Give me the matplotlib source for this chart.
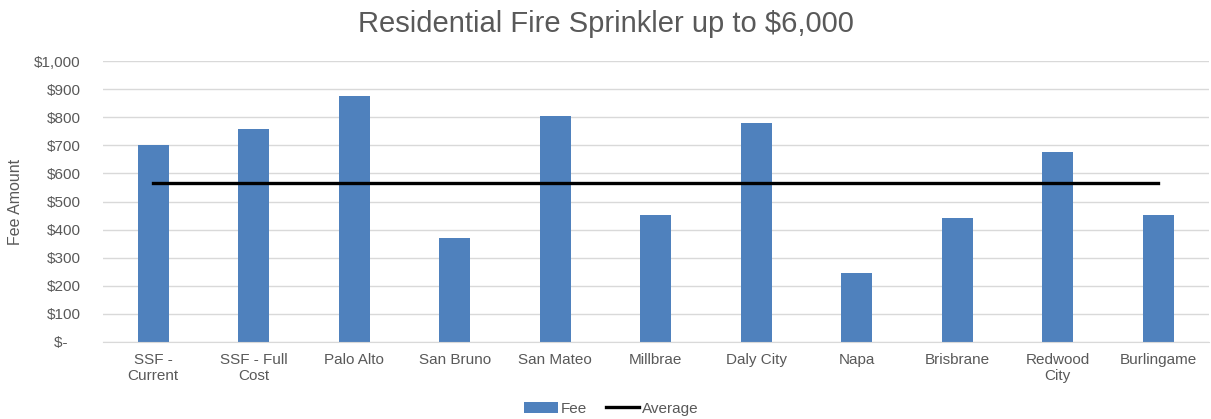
import numpy as np
import matplotlib.pyplot as plt
from matplotlib.ticker import FuncFormatter

plt.rcParams['font.family'] = ['Liberation Sans', 'DejaVu Sans']

# fee data
cities = ['SSF -\nCurrent', 'SSF - Full\nCost', 'Palo Alto', 'San Bruno', 'San Mateo',
          'Millbrae', 'Daly City', 'Napa', 'Brisbrane', 'Redwood\nCity', 'Burlingame']
fees = [700, 760, 875, 370, 805, 453, 778, 246, 440, 677, 453]

# average of the comparison cities (SSF rows left out)
avg_fee = np.mean(fees[2:])
average = [avg_fee] * len(cities)

grey = '#595959'
blue = '#4f81bd'

fig = plt.figure(figsize=(12.11, 4.19), dpi=100)
ax = fig.add_axes([0.085, 0.184, 0.913, 0.67])

x = np.arange(len(cities))
bars = ax.bar(x, fees, width=0.31, color=blue, label='Fee', zorder=2)
line, = ax.plot(x, average, color='black', lw=2.4, label='Average', zorder=3)

ax.set_xlim(-0.5, len(cities) - 0.5)
ax.set_ylim(0, 1000)
ax.set_yticks(np.arange(0, 1001, 100))


def money(v, pos):
    if v == 0:
        return '$-   '
    return '${:,.0f}'.format(v)


ax.yaxis.set_major_formatter(FuncFormatter(money))
ax.set_xticks(x)
ax.set_xticklabels(cities)
ax.tick_params(axis='both', length=0, labelsize=11, colors=grey, pad=8)
ax.tick_params(axis='y', pad=16)
ax.grid(axis='y', color='#d9d9d9', lw=1, zorder=0)
for s in ['top', 'right', 'left']:
    ax.spines[s].set_visible(False)
ax.spines['bottom'].set_color('#d9d9d9')

ax.set_ylabel('Fee Amount', fontsize=11.5, color=grey, labelpad=8)
fig.suptitle('Residential Fire Sprinkler up to $6,000', fontsize=21, color=grey, y=0.975)

fig.legend([bars, line], ['Fee', 'Average'], loc='lower center',
           bbox_to_anchor=(0.505, -0.025), ncol=2, frameon=False,
           fontsize=11, labelcolor=grey, handlelength=2.2, handletextpad=0.2,
           columnspacing=1.2)

fig.savefig('out.png', dpi=100)
